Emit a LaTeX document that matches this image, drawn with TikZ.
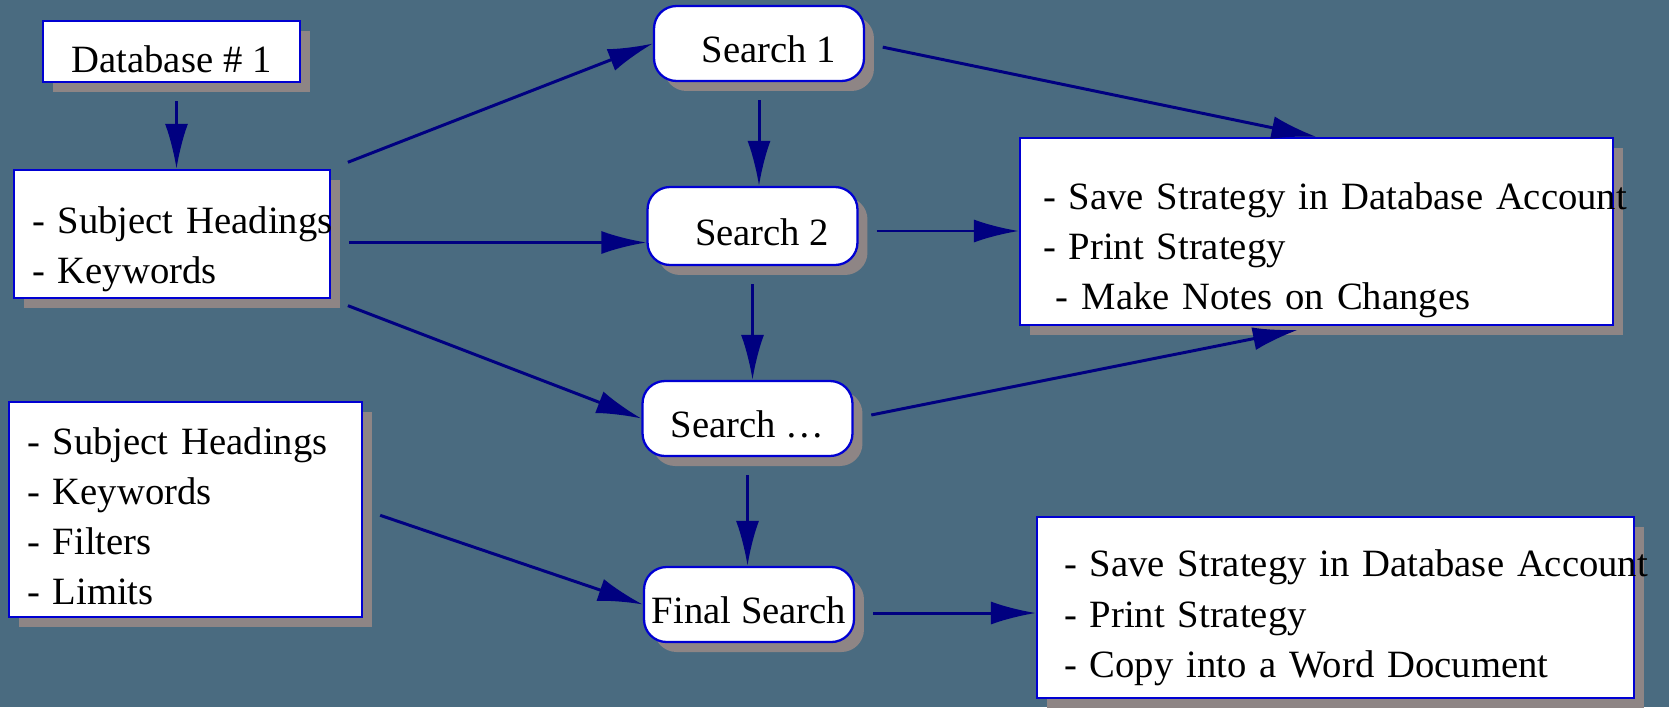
\documentclass[tikz,border=0pt]{standalone}
\usepackage{fontspec}
\setmainfont{Liberation Serif}
\usetikzlibrary{arrows.meta,shadows}
\definecolor{slatebg}{RGB}{74,107,128}
\definecolor{boxblue}{RGB}{0,0,210}
\definecolor{linknavy}{RGB}{0,0,128}
\definecolor{shadowgrey}{RGB}{142,133,133}
\tikzstyle{flow} = [
  x=0.02cm,
  y=-0.02cm,
  font=\fontsize{22}{28.5}\selectfont,
]
\tikzstyle{box} = [
  rectangle,
  draw=boxblue,
  line width=1.3pt,
  fill=white,
  drop shadow={shadow xshift=0.2cm, shadow yshift=-0.2cm, fill=shadowgrey, opacity=1},
]
\tikzstyle{listbox} = [box, align=left, inner xsep=0.36cm]
\tikzstyle{searchbox} = [box, rounded corners=0.45cm, minimum width=4.2cm, minimum height=1.5cm, text height=22pt]
\tikzstyle{link} = [
  draw=linknavy,
  line width=1.7pt,
  -{Latex[length=0.9cm, width=0.46cm]},
  shorten <=0.36cm,
]

\begin{document}
\begin{tikzpicture}[flow]
            % Background
            \fill[slatebg] (0,0) rectangle (1669,707);

            % Inputs
            \node[box, minimum width=5.14cm, minimum height=1.22cm, text height=24pt] (db) at (171.5,51.5) {Database \# 1};
            \node[listbox, text width=5.6cm, minimum height=2.56cm] (terms) at (172,234)
              {\rule{0pt}{33pt}\mbox{- Subject Headings}\\- Keywords};
            \node[listbox, text width=6.34cm, minimum height=4.3cm] (limits) at (185.5,509.5)
              {\rule{0pt}{23pt}- Subject Headings\\- Keywords\\- Filters\\- Limits};

            % Searches
            \node[searchbox] (s1) at (759,43.5) {\ \ Search 1};
            \node[searchbox, minimum height=1.56cm] (s2) at (752.5,226) {\ \ Search 2};
            \node[searchbox] (sd) at (747.5,418.5) {Search \dots};
            \node[searchbox] (final) at (749,604.5) {Final Search};

            % Outputs
            \node[listbox, inner xsep=0.46cm, text width=10.94cm, minimum height=3.74cm] (r1) at (1316.5,231.5)
              {\rule{0pt}{37pt}\mbox{- Save Strategy in Database Account}\\- Print Strategy\\\ - Make Notes on Changes};
            \node[listbox, inner xsep=0.54cm, text width=10.86cm, minimum height=3.62cm] (r2) at (1335.5,607.5)
              {\rule{0pt}{27pt}\mbox{- Save Strategy in Database Account}\\- Print Strategy\\- Copy into a Word Document};

            % Links
            \draw[link] ([xshift=0.1cm]db.south) -- ([xshift=0.1cm]db.south |- terms.north);
            \draw[link] (terms.north east) -- (s1.west);
            \draw[link] ([yshift=-0.17cm]terms.east) -- ([yshift=-0.17cm]terms.east -| s2.west);
            \draw[link] (terms.south east) -- (sd.west);
            \draw[link] (s1.south) -- (s1.south |- s2.north);
            \draw[link] (s2.south) -- (s2.south |- sd.north);
            \draw[link] (sd.south) -- (sd.south |- final.north);
            \draw[link] (s1.east) -- (r1.north);
            \draw[link] ([yshift=-0.1cm]s2.east) -- ([yshift=-0.1cm]s2.east -| r1.west);
            \draw[link, shorten >=0.38cm] (sd.east) -- (r1.south);
            \draw[link] (limits.east) -- (final.west);
            \draw[link] ([yshift=-0.17cm]final.east) -- ([yshift=-0.17cm]final.east -| r2.west);
          \end{tikzpicture}
\end{document}
